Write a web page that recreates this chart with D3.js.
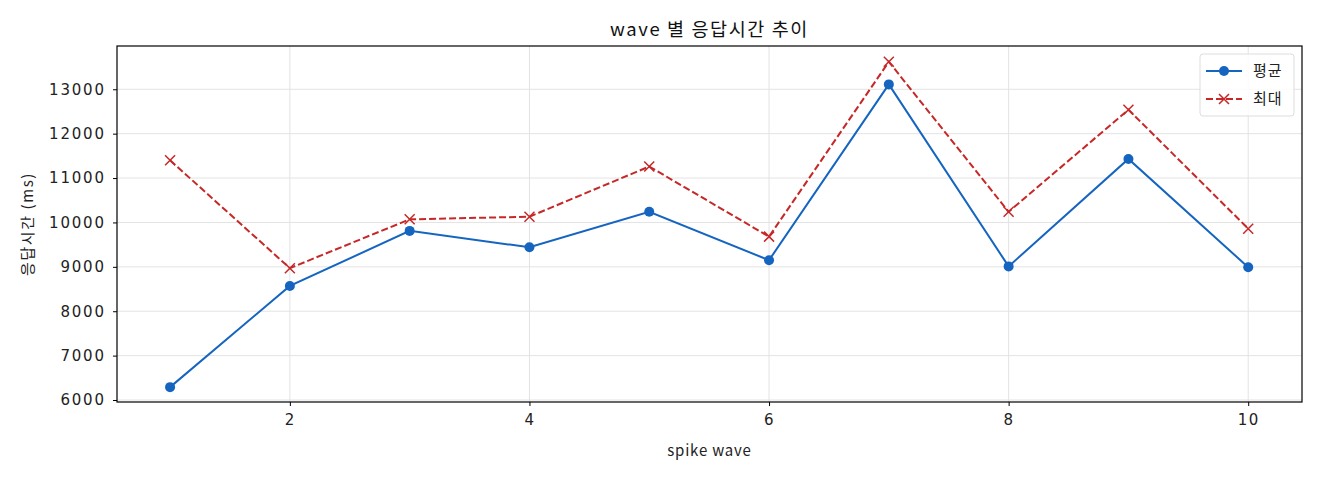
<!DOCTYPE html>
<html>
<head>
<meta charset="utf-8">
<script src="https://cdn.jsdelivr.net/npm/d3@7"></script>
<style>
	body { margin: 0; background: #fff; }
	svg { font-family: "Noto Sans CJK KR", "Noto Sans", sans-serif; }
</style>
</head>
<body>
<div id="chart"></div>
<script>
const waves = [1, 2, 3, 4, 5, 6, 7, 8, 9, 10];
const avgTimes = [6290, 8570, 9810, 9440, 10240, 9150, 13110, 9010, 11430, 8990];
const maxTimes = [11400, 8970, 10070, 10130, 11260, 9680, 13620, 10240, 12540, 9860];
const xTicks = [2, 4, 6, 8, 10];
const yTicks = [6000, 7000, 8000, 9000, 10000, 11000, 12000, 13000];

const width = 1320, height = 480;
const margin = {top: 46, right: 18, bottom: 78, left: 117};

let svg = d3.select("#chart").append("svg")
	.attr("width", width)
	.attr("height", height);

let x = d3.scaleLinear()
	.domain([0.557, 10.449])
	.range([margin.left, width - margin.right]);

let y = d3.scaleLinear()
	.domain([5955, 13975])
	.range([height - margin.bottom, margin.top]);

// grid
svg.append("g").selectAll("line")
	.data(xTicks).enter()
	.append("line")
	.attr("x1", d => x(d)).attr("x2", d => x(d))
	.attr("y1", margin.top).attr("y2", height - margin.bottom)
	.attr("stroke", "#e3e3e3").attr("stroke-width", 1);

svg.append("g").selectAll("line")
	.data(yTicks).enter()
	.append("line")
	.attr("x1", margin.left).attr("x2", width - margin.right)
	.attr("y1", d => y(d)).attr("y2", d => y(d))
	.attr("stroke", "#e3e3e3").attr("stroke-width", 1);

let xAxis = g => g
	.attr("transform", `translate(0,${height - margin.bottom})`)
	.call(d3.axisBottom(x).tickValues(xTicks).tickFormat(d3.format("d")).tickSize(4).tickPadding(8).tickSizeOuter(0));

let yAxis = g => g
	.attr("transform", `translate(${margin.left},0)`)
	.call(d3.axisLeft(y).tickValues(yTicks).tickFormat(d3.format("d")).tickSize(4).tickPadding(9).tickSizeOuter(0));

svg.append("g").call(xAxis)
	.call(g => g.select(".domain").remove())
	.selectAll("text")
	.style("font-family", "'DejaVu Sans', sans-serif")
	.style("font-size", "15px").style("letter-spacing", "1.5px")
	.attr("fill", "#222");
svg.append("g").call(yAxis)
	.call(g => g.select(".domain").remove())
	.selectAll("text")
	.style("font-family", "'DejaVu Sans', sans-serif")
	.style("font-size", "15px").style("letter-spacing", "1.8px")
	.attr("dx", "1.8px")
	.attr("fill", "#222");

// frame
svg.append("rect")
	.attr("x", margin.left).attr("y", margin.top)
	.attr("width", width - margin.left - margin.right)
	.attr("height", height - margin.top - margin.bottom)
	.attr("fill", "none").attr("stroke", "#000").attr("stroke-width", 1.2);

const blue = "#1565c0", red = "#c62828";

let line = d3.line().x((d, i) => x(waves[i])).y(d => y(d));

svg.append("path")
	.datum(maxTimes)
	.attr("d", line)
	.attr("fill", "none")
	.attr("stroke", red)
	.attr("stroke-width", 2)
	.attr("stroke-dasharray", "7,3");

svg.append("g").selectAll("path")
	.data(maxTimes).enter()
	.append("path")
	.attr("d", "M-5,-5L5,5M-5,5L5,-5")
	.attr("transform", (d, i) => `translate(${x(waves[i])},${y(d)})`)
	.attr("stroke", red).attr("stroke-width", 1.5);

svg.append("path")
	.datum(avgTimes)
	.attr("d", line)
	.attr("fill", "none")
	.attr("stroke", blue)
	.attr("stroke-width", 2);

svg.append("g").selectAll("circle")
	.data(avgTimes).enter()
	.append("circle")
	.attr("cx", (d, i) => x(waves[i]))
	.attr("cy", d => y(d))
	.attr("r", 5)
	.attr("fill", blue);

// titles
svg.append("text")
	.attr("x", (margin.left + width - margin.right) / 2)
	.attr("y", 36)
	.attr("text-anchor", "middle")
	.style("font-size", "18.5px")
	.style("letter-spacing", "1.6px")
	.attr("fill", "#111")
	.text("wave 별 응답시간 추이");

svg.append("text")
	.attr("x", (margin.left + width - margin.right) / 2)
	.attr("y", 456)
	.attr("text-anchor", "middle")
	.style("font-size", "15px")
	.style("letter-spacing", "0.8px")
	.attr("fill", "#222")
	.text("spike wave");

svg.append("text")
	.attr("transform", `translate(33,${(margin.top + height - margin.bottom) / 2}) rotate(-90)`)
	.attr("text-anchor", "middle")
	.style("font-size", "15px")
	.style("letter-spacing", "1.6px")
	.attr("fill", "#222")
	.text("응답시간 (ms)");

// legend
let legend = svg.append("g").attr("transform", "translate(1200,54)");
legend.append("rect")
	.attr("width", 94).attr("height", 62).attr("rx", 3)
	.attr("fill", "#fff").attr("fill-opacity", 0.85)
	.attr("stroke", "#ddd");
legend.append("line")
	.attr("x1", 6).attr("x2", 42).attr("y1", 17).attr("y2", 17)
	.attr("stroke", blue).attr("stroke-width", 2);
legend.append("circle")
	.attr("cx", 24).attr("cy", 17).attr("r", 5).attr("fill", blue);
legend.append("text")
	.attr("x", 53).attr("y", 22)
	.style("font-size", "15px").style("letter-spacing", "1px").attr("fill", "#222")
	.text("평균");
legend.append("line")
	.attr("x1", 6).attr("x2", 42).attr("y1", 45).attr("y2", 45)
	.attr("stroke", red).attr("stroke-width", 2)
	.attr("stroke-dasharray", "7,3");
legend.append("path")
	.attr("d", "M-5,-5L5,5M-5,5L5,-5")
	.attr("transform", "translate(24,45)")
	.attr("stroke", red).attr("stroke-width", 1.5);
legend.append("text")
	.attr("x", 53).attr("y", 50)
	.style("font-size", "15px").style("letter-spacing", "1px").attr("fill", "#222")
	.text("최대");
</script>
</body>
</html>
